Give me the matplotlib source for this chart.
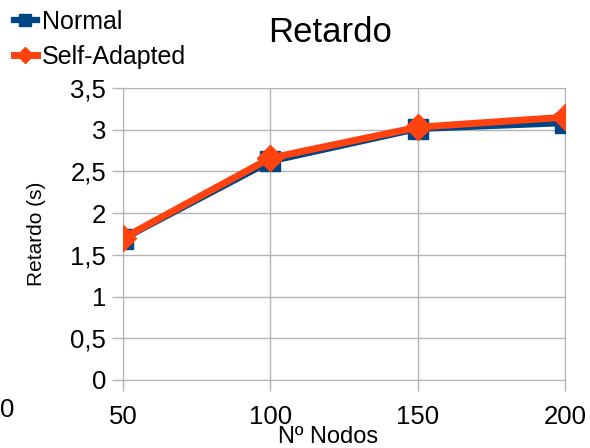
import matplotlib
matplotlib.use("Agg")
import matplotlib.pyplot as plt

plt.rcParams['font.family'] = ['Liberation Sans', 'DejaVu Sans']

nodos = [50, 100, 150, 200]
normal = [1.69, 2.62, 3.01, 3.08]
self_adapted = [1.70, 2.66, 3.03, 3.15]
y_ticks = [0, 0.5, 1, 1.5, 2, 2.5, 3, 3.5]
y_tick_labels = ["0", "0,5", "1", "1,5", "2", "2,5", "3", "3,5"]

fig = plt.figure(figsize=(5.9, 4.48), dpi=100)
ax = fig.add_axes([0.2085, 0.1518, 0.7491, 0.6518])

ax.plot(nodos, normal, color='#004586', lw=4.5, marker='s', ms=14,
        label='Normal', zorder=3)
ax.plot(nodos, self_adapted, color='#ff420e', lw=5, marker='D', ms=13,
        label='Self-Adapted', zorder=4)

ax.set_xlim(50, 200)
ax.set_ylim(0, 3.5)
ax.set_xticks(nodos)
ax.set_xticklabels([str(n) for n in nodos])
ax.set_yticks(y_ticks)
ax.set_yticklabels(y_tick_labels)
ax.grid(True, color='#b3b3b3', lw=1)
ax.set_axisbelow(True)
for s in ax.spines.values():
    s.set_color('#b3b3b3')
ax.tick_params(axis='both', colors='#b3b3b3', labelcolor='black',
               labelsize=18.5, length=8, width=1)
ax.tick_params(axis='x', pad=10)
ax.tick_params(axis='y', pad=4)

fig.text(330 / 590, 1 - 33 / 448, 'Retardo', fontsize=25,
         ha='center', va='center')
fig.text(36 / 590, 1 - 234 / 448, 'Retardo (s)', fontsize=15,
         rotation=90, ha='center', va='center')
fig.text(328 / 590, 1 - 437 / 448, 'Nº Nodos', fontsize=17,
         ha='center', va='center')

fig.text(0.0, 1 - 410 / 448, '0', fontsize=18.5, ha='left', va='center')

fig.legend(loc='upper left', bbox_to_anchor=(4 / 590, 1.0), frameon=False,
           fontsize=18, handlelength=0.9, handletextpad=0.2,
           labelspacing=0.45, borderaxespad=0.0, markerscale=0.6)

fig.savefig('out.png', dpi=100)
